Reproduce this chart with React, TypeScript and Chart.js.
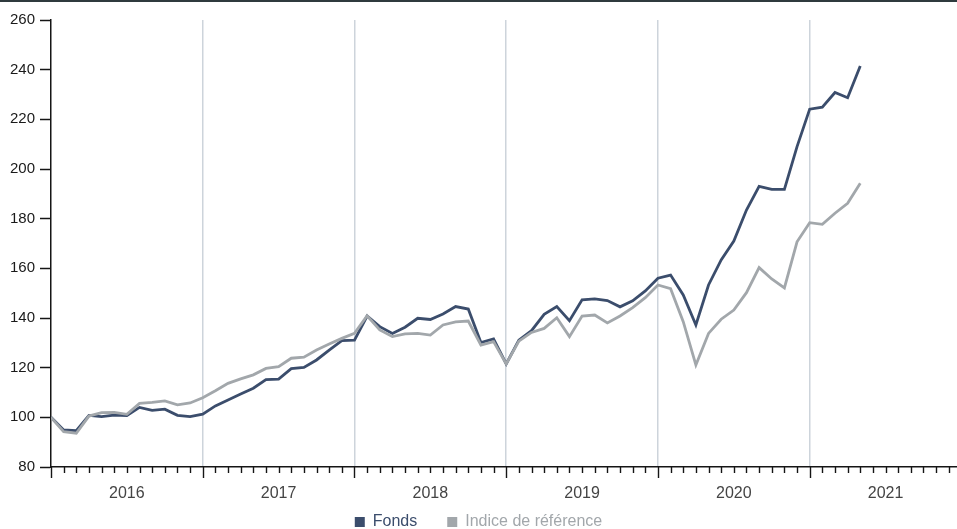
import React, { useEffect, useRef } from "react";
import { Chart, registerables } from "chart.js";

Chart.register(...registerables);

// ---- Data ----
const yearLabels = ["2016", "2017", "2018", "2019", "2020", "2021"];
const monthsPerYear = 12;
const axisMonthCount = 72; // Jan 2016 .. Dec 2021 monthly ticks
const seriesNames = ["Fonds", "Indice de référence"];

// Monthly values from Jan 2016 to May 2021
const fonds = [
  100, 94.9, 94.6, 100.8, 100.3, 100.9, 100.7, 104.0, 102.8, 103.3, 100.8, 100.3,
  101.3, 104.6, 107.0, 109.4, 111.7, 115.2, 115.4, 119.6, 120.1, 123.1, 127.1, 130.9,
  131.1, 140.8, 136.5, 133.8, 136.3, 139.9, 139.4, 141.6, 144.6, 143.6, 130.1, 131.6,
  121.5, 131.1, 134.9, 141.5, 144.6, 138.9, 147.3, 147.7, 147.0, 144.5, 146.9, 150.9,
  156.0, 157.3, 149.3, 137.2, 153.3, 163.4, 171.0, 183.5, 193.0, 191.8, 191.8, 209.0,
  224.1, 224.9, 230.8, 228.7, 241.5,
];
const indice = [
  100, 94.2, 93.6, 100.5, 101.9, 102.0, 101.2, 105.6, 106.0, 106.6, 105.0, 105.8,
  107.9, 110.7, 113.7, 115.5, 117.1, 119.7, 120.4, 123.8, 124.2, 127.1, 129.5, 131.8,
  133.8, 140.9, 135.2, 132.5, 133.6, 133.8, 133.1, 137.2, 138.4, 138.8, 129.1, 130.5,
  121.5, 130.7, 134.2, 135.8, 140.1, 132.5, 140.8, 141.2, 138.0, 140.8, 144.2, 148.2,
  153.3, 151.8, 138.5, 121.1, 133.8, 139.5, 143.2, 150.2, 160.3, 155.7, 152.1, 170.7,
  178.4, 177.7, 182.2, 186.2, 194.3,
];
const yMin = 80;
const yMax = 260;
const yStep = 20;

// ---- Styles ----
const FONT = '"Liberation Sans", Arial, Helvetica, sans-serif';
const COLOR_FONDS = "#3b4d6c";
const COLOR_INDICE = "#a2a7ab";
const COLOR_AXIS = "#151515";
const COLOR_GRID = "#cdd4db";

// Month tick marks (long at year boundaries) and year labels centred on each year
const monthAxisPlugin = {
  id: "monthAxis",
  afterDraw(chart: any) {
    const xs = chart.scales.x;
    const ctx = chart.ctx;
    const y0 = chart.chartArea.bottom;
    ctx.save();
    ctx.strokeStyle = COLOR_AXIS;
    ctx.lineWidth = 1.4;
    for (let i = 0; i < axisMonthCount; i++) {
      const px = Math.round(xs.getPixelForValue(i)) + 0.5;
      const len = i % monthsPerYear === 0 ? 11 : 6;
      ctx.beginPath();
      ctx.moveTo(px, y0);
      ctx.lineTo(px, y0 + len);
      ctx.stroke();
    }
    ctx.fillStyle = "#444";
    ctx.font = `16px ${FONT}`;
    ctx.textAlign = "center";
    ctx.textBaseline = "middle";
    yearLabels.forEach((label, k) => {
      const px = xs.getPixelForValue(k * monthsPerYear + monthsPerYear / 2);
      ctx.fillText(label, px, y0 + 27);
    });
    ctx.restore();
  },
};

export default function App() {
  const ref = useRef<HTMLCanvasElement | null>(null);

  useEffect(() => {
    document.body.style.margin = "0";
    document.body.style.overflow = "hidden";
    if (!ref.current) return;
    const chart = new Chart(ref.current, {
      type: "line",
      data: {
        datasets: [
          {
            label: seriesNames[0],
            data: fonds.map((v, i) => ({ x: i, y: v })),
            borderColor: COLOR_FONDS,
            backgroundColor: COLOR_FONDS,
            borderWidth: 2.8,
            pointRadius: 0,
            tension: 0,
            order: 1,
          },
          {
            label: seriesNames[1],
            data: indice.map((v, i) => ({ x: i, y: v })),
            borderColor: COLOR_INDICE,
            backgroundColor: COLOR_INDICE,
            borderWidth: 2.8,
            pointRadius: 0,
            tension: 0,
            order: 0,
          },
        ],
      },
      options: {
        animation: false,
        responsive: true,
        maintainAspectRatio: false,
        layout: { padding: { top: 20, left: 0, right: 0, bottom: -11 } },
        plugins: {
          tooltip: { enabled: false },
          legend: {
            position: "bottom",
            labels: {
              padding: 30,
              boxWidth: 10,
              boxHeight: 10,
              font: { family: FONT, size: 16 },
              generateLabels: () => [
                {
                  text: seriesNames[0],
                  fillStyle: COLOR_FONDS,
                  strokeStyle: "rgba(0,0,0,0)",
                  lineWidth: 0,
                  fontColor: COLOR_FONDS,
                  hidden: false,
                  datasetIndex: 0,
                },
                {
                  text: seriesNames[1],
                  fillStyle: COLOR_INDICE,
                  strokeStyle: "rgba(0,0,0,0)",
                  lineWidth: 0,
                  fontColor: COLOR_INDICE,
                  hidden: false,
                  datasetIndex: 1,
                },
              ],
            },
          },
        },
        scales: {
          x: {
            type: "linear",
            min: 0,
            max: 71.65,
            afterBuildTicks: (s: any) => {
              s.ticks = Array.from({ length: axisMonthCount }, (_, i) => ({ value: i }));
            },
            afterFit: (s: any) => {
              s.height = 17;
            },
            grid: {
              color: (c: any) =>
                c.tick && c.tick.value % monthsPerYear === 0 && c.tick.value > 0
                  ? COLOR_GRID
                  : "rgba(0,0,0,0)",
              lineWidth: 1.5,
              drawTicks: false,
            },
            border: { color: COLOR_AXIS, width: 1.5 },
            ticks: { display: false },
          },
          y: {
            min: yMin,
            max: yMax,
            afterFit: (s: any) => {
              s.width = 51;
            },
            grid: {
              color: "rgba(0,0,0,0)",
              drawTicks: true,
              tickLength: 11,
              tickColor: COLOR_AXIS,
              tickWidth: 1.5,
            },
            border: { color: COLOR_AXIS, width: 1.5 },
            ticks: {
              stepSize: yStep,
              padding: 5,
              color: "#1a1a1a",
              font: { family: FONT, size: 15 },
            },
          },
        },
      },
      plugins: [monthAxisPlugin],
    } as any);
    return () => chart.destroy();
  }, []);

  return (
    <div style={{ position: "absolute", left: 0, top: 0, width: 957, height: 529, background: "#fff" }}>
      <div style={{ position: "absolute", left: 0, top: 0, width: 957, height: 2, background: "#2f3a3e" }} />
      <canvas ref={ref} />
    </div>
  );
}
